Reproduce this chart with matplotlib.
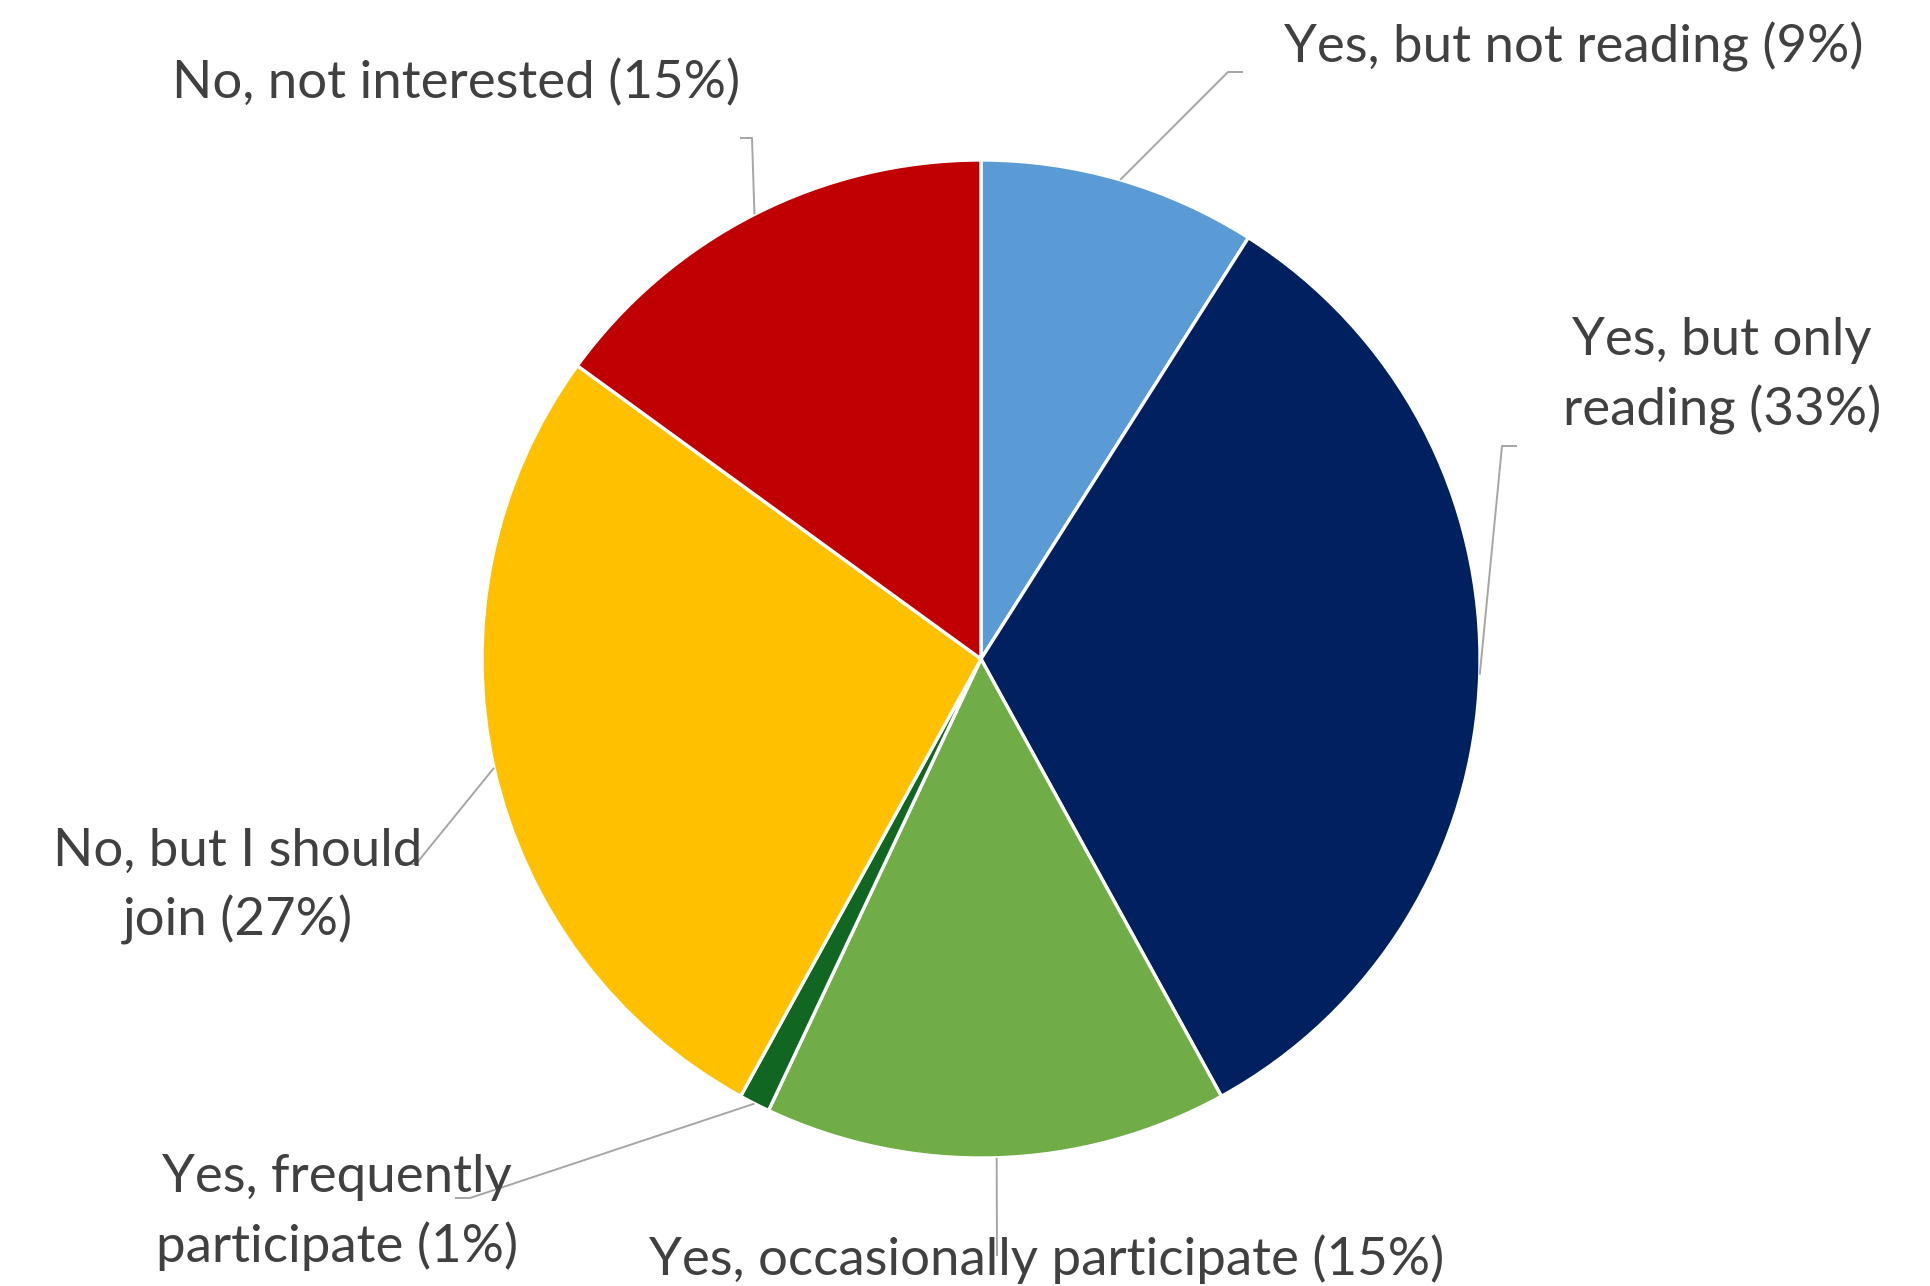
import numpy as np
import matplotlib.pyplot as plt

# survey answers, clockwise from 12 o'clock
labels = [
    "Yes, but not reading (9%)",
    "Yes, but only\nreading (33%)",
    "Yes, occasionally participate (15%)",
    "Yes, frequently\nparticipate (1%)",
    "No, but I should\njoin (27%)",
    "No, not interested (15%)",
]
shares = [9, 33, 15, 1, 27, 15]
colors = ["#5B9BD5", "#002060", "#70AD47", "#116622", "#FFC000", "#C00000"]

# layout (pixel space, y down); text y = baseline of the last line
W, H = 1931, 1286
CX, CY, R = 981, 659, 499
TEXT_POS = [(1574, 62), (1722, 425), (1047, 1275), (337, 1262), (238, 936), (456, 98)]
# leader elbows: points after the pie-edge point
LEADERS = [
    [(1228, 72), (1243, 72)],
    [(1502, 446), (1517, 446)],
    [(997, 1256)],
    [(470, 1198), (455, 1198)],
    [(416, 864), (399, 864)],
    [(752, 138), (740, 138)],
]

plt.rcParams["font.family"] = ["Lato", "DejaVu Sans"]

fig = plt.figure(figsize=(W / 100, H / 100), dpi=100)
ax = fig.add_axes([0, 0, 1, 1])

# y axis is flipped, so counterclock=True + startangle=-90 reads clockwise from top
wedges, _ = ax.pie(shares, colors=colors, center=(CX, CY), radius=R,
                   startangle=-90, counterclock=True,
                   wedgeprops=dict(edgecolor="white", linewidth=2.4))

ax.set_xlim(0, W)
ax.set_ylim(H, 0)
ax.set_aspect("equal")
ax.axis("off")

for w, lab, (tx, ty), pts in zip(wedges, labels, TEXT_POS, LEADERS):
    mid = np.deg2rad((w.theta1 + w.theta2) / 2)
    ex, ey = CX + R * np.cos(mid), CY + R * np.sin(mid)
    xs = [ex] + [p[0] for p in pts]
    ys = [ey] + [p[1] for p in pts]
    ax.plot(xs, ys, color="#A6A6A6", lw=1.4, zorder=1, solid_capstyle="butt")
    ax.text(tx, ty, lab, ha="center", va="baseline", multialignment="center",
            fontsize=38, color="#404040", linespacing=1.5, zorder=3)

fig.savefig("out.png", dpi=100, facecolor="white")
